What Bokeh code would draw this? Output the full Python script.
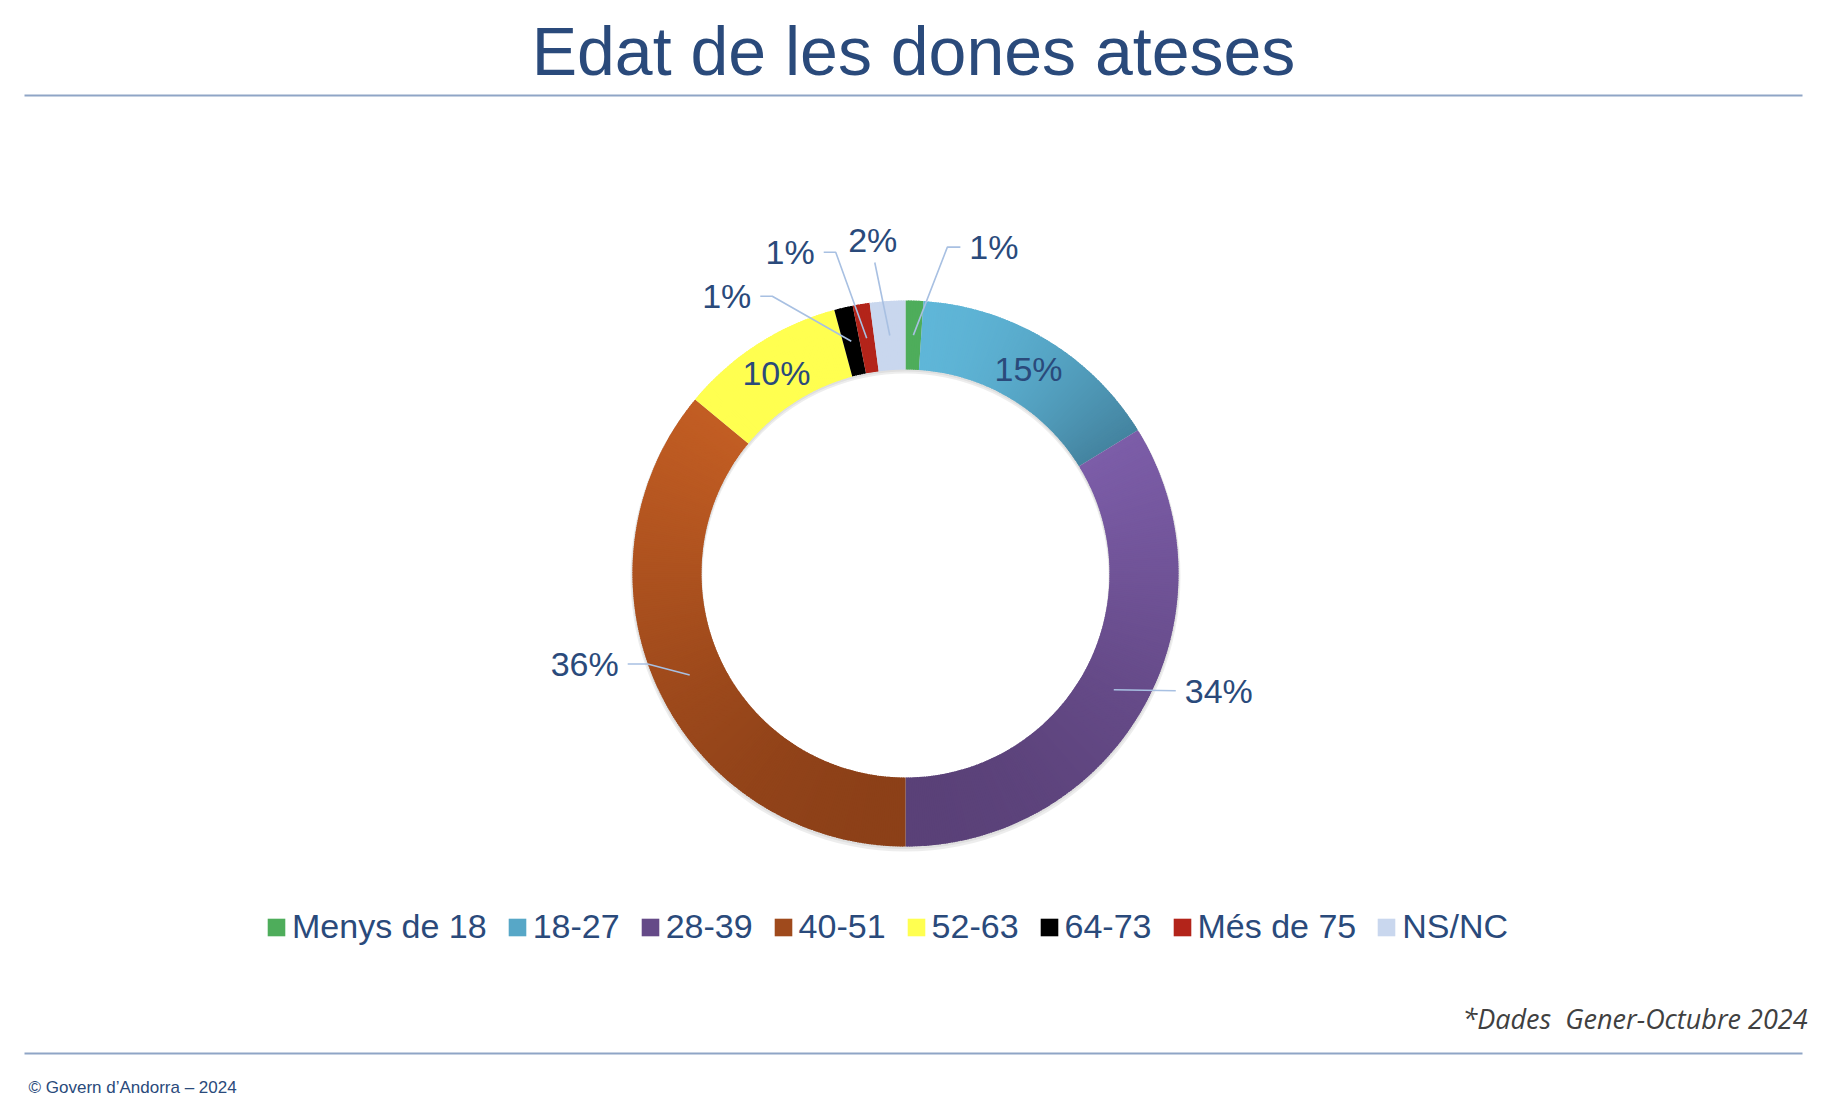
import math
from bokeh.plotting import figure
from bokeh.models import ColumnDataSource, Legend, LegendItem
from bokeh.core.properties import value
from bokeh.embed import file_html
from bokeh.resources import INLINE

# ---------------- data ----------------
categories = ["Menys de 18", "18-27", "28-39", "40-51", "52-63", "64-73", "Més de 75", "NS/NC"]
shares = [1.05, 15.15, 33.8, 36.0, 9.8, 1.1, 1.0, 2.1]
pct_labels = ["1%", "15%", "34%", "36%", "10%", "1%", "1%", "2%"]
top_colors = ["#4EAD5B", "#5FB6D8", "#7C5DA8", "#C25D23", "#FFFF50", "#000000", "#B3241A", "#C9D7EE"]
bottom_colors = ["#4EAD5B", "#4484A0", "#5A4178", "#8C4018", "#FFFF50", "#000000", "#B3241A", "#C9D7EE"]

title_text = "Edat de les dones ateses"
footnote_text = "*Dades \u00a0Gener-Octubre 2024"
credit_text = "\u00a9 Govern d\u2019Andorra \u2013 2024"

# ---------------- layout (reference pixel space, y down) ----------------
W, H = 1830, 1098
OFF = 0
CX, CY = 905, 573
R_OUT, R_IN = 273, 204
TEXT = "#2A4A7B"
LEADER = "#A8C0E2"
RULE = "#8FA5C6"
FONT = "Liberation Sans"

# per-slice label placement: kind, elbow offset from anchor, tail length, text side
label_layout = [
    ("out", (34, -88), 13, "left"),
    ("in", None, 0, None),
    ("out", (62, 1), 0, "left"),
    ("out", (-42, -11), -20, "right"),
    ("in", None, 0, None),
    ("out", (-79, -45), -12, "right"),
    ("out", (-31, -86), -12, "right"),
    ("out", (-15, -73), 0, "above"),
]


def X(xr):
    return xr - OFF


def Y(yr):
    return H - (yr - OFF)


def hex2rgb(h):
    h = h.lstrip("#")
    return tuple(int(h[i:i + 2], 16) for i in (0, 2, 4))


def lerp_color(c1, c2, t):
    a, b = hex2rgb(c1), hex2rgb(c2)
    return "#%02x%02x%02x" % tuple(int(round(a[i] + (b[i] - a[i]) * t)) for i in range(3))


p = figure(width=W, height=H, x_range=(0, W), y_range=(0, H),
           output_backend="svg", toolbar_location=None, min_border=0,
           x_axis_location=None, y_axis_location=None)
p.grid.visible = False
p.outline_line_color = None
p.background_fill_color = "white"
p.border_fill_color = "white"

# rules
p.segment(x0=[X(24), X(24)], y0=[Y(95), Y(1053)], x1=[X(1802), X(1802)], y1=[Y(95), Y(1053)],
          line_color=RULE, line_width=2)

# title
p.text(x=[X(913)], y=[Y(50)], text=[title_text], text_font=value(FONT),
       text_font_size="68px", text_color=TEXT, text_align="center", text_baseline="middle")

# shadow
p.annulus(x=[X(CX)], y=[Y(CY + 3)], inner_radius=R_IN - 1, outer_radius=R_OUT + 2,
          fill_color="black", fill_alpha=0.07, line_alpha=0)
p.annulus(x=[X(CX)], y=[Y(CY + 1.5)], inner_radius=R_IN - 0.5, outer_radius=R_OUT + 1,
          fill_color="black", fill_alpha=0.06, line_alpha=0)

total = sum(shares)
R_MID = (R_OUT + R_IN) / 2
cum = 0.0
legend_items = []
anchors = []
for i, cat in enumerate(categories):
    s_deg = cum / total * 360.0
    cum += shares[i]
    e_deg = cum / total * 360.0
    span = e_deg - s_deg
    n = max(2, int(span * 2))
    step = span / n
    starts, ends, cols, ys = [], [], [], []
    for k in range(n):
        a0 = s_deg + k * step
        a1 = a0 + step + (0.25 if k < n - 1 else 0.0)
        am = a0 + step / 2
        ys.append(CY - R_MID * math.cos(math.radians(am)))
        starts.append(math.radians(90 - a1))
        ends.append(math.radians(90 - a0))
    ymin, ymax = min(ys), max(ys)
    for yv in ys:
        t = 0.5 if ymax - ymin < 1e-6 else (yv - ymin) / (ymax - ymin)
        cols.append(lerp_color(top_colors[i], bottom_colors[i], t))
    src = ColumnDataSource(dict(x=[X(CX)] * n, y=[Y(CY)] * n, sa=starts, ea=ends, c=cols))
    r = p.annular_wedge(x="x", y="y", inner_radius=R_IN, outer_radius=R_OUT,
                        start_angle="sa", end_angle="ea", fill_color="c",
                        line_color=None, source=src)
    legend_items.append(LegendItem(label=cat, renderers=[r], index=n // 2))
    m = (s_deg + e_deg) / 2
    anchors.append((CX + R_MID * math.sin(math.radians(m)), CY - R_MID * math.cos(math.radians(m))))

# labels and leader lines
lx, ly, lt, la = [], [], [], []
lead_xs, lead_ys = [], []
GAP = 9
for i, (kind, elbow, tail, side) in enumerate(label_layout):
    ax, ay = anchors[i]
    if kind == "in":
        lx.append(X(ax)); ly.append(Y(ay)); lt.append(pct_labels[i]); la.append("center")
        continue
    ex, ey = ax + elbow[0], ay + elbow[1]
    tx = ex + tail
    lead_xs.append([X(ax), X(ex), X(tx)])
    lead_ys.append([Y(ay), Y(ey), Y(ey)])
    if side == "left":
        lx.append(X(tx + GAP)); ly.append(Y(ey)); la.append("left")
    elif side == "right":
        lx.append(X(tx - GAP)); ly.append(Y(ey)); la.append("right")
    else:
        lx.append(X(ex - 2)); ly.append(Y(ey - 23)); la.append("center")
    lt.append(pct_labels[i])

p.multi_line(xs=lead_xs, ys=lead_ys, line_color=LEADER, line_width=1.6)
p.text(x="x", y="y", text="t", text_align="a",
       source=ColumnDataSource(dict(x=lx, y=ly, t=lt, a=la)),
       text_font=value(FONT), text_font_size="34px", text_color=TEXT, text_baseline="middle")

# legend
legend = Legend(items=legend_items, orientation="horizontal", location=(265, 152),
                glyph_width=22, glyph_height=22, label_standoff=5, spacing=19,
                padding=0, margin=0, border_line_alpha=0, background_fill_alpha=0,
                label_text_font=FONT, label_text_font_size="34px", label_text_color=TEXT)
p.add_layout(legend)

# footnote and credit
p.text(x=[X(1807)], y=[Y(1018)], text=[footnote_text], text_font=value("Open Sans"),
       text_font_style="italic", text_font_size="27px", text_color="#404040",
       text_align="right", text_baseline="middle")
p.text(x=[X(28)], y=[Y(1087)], text=[credit_text], text_font=value(FONT),
       text_font_size="17px", text_color=TEXT, text_align="left", text_baseline="middle")

open("out.html", "w").write(file_html(p, INLINE))
